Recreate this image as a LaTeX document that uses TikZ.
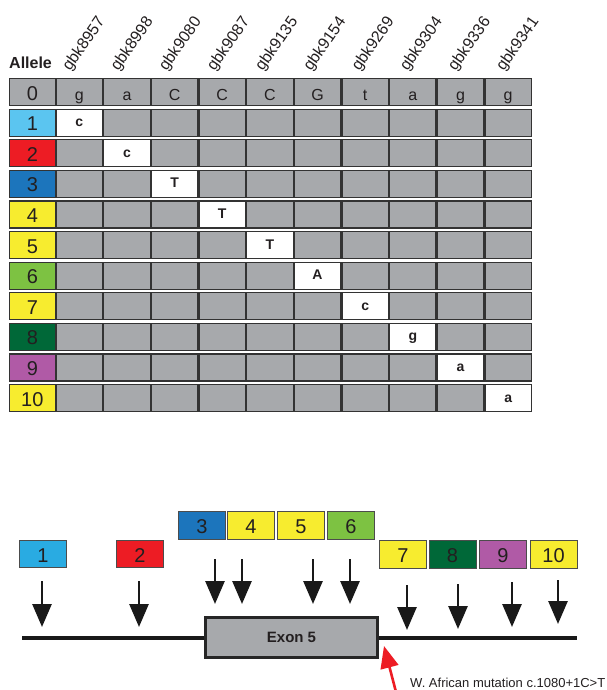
\documentclass[tikz,border=0pt]{standalone}
\usepackage{fontspec}
\setmainfont{Liberation Sans}
\usetikzlibrary{arrows.meta}
\definecolor{cellgray}{HTML}{A7A9AC}
\definecolor{txt}{HTML}{231F20}
\definecolor{cLB}{HTML}{5BC5F0}
\definecolor{cLBb}{HTML}{29ABE2}
\definecolor{cRed}{HTML}{ED1C24}
\definecolor{cBlue}{HTML}{1C75BC}
\definecolor{cYel}{HTML}{F7EC2F}
\definecolor{cGrn}{HTML}{7DC242}
\definecolor{cDG}{HTML}{006838}
\definecolor{cPur}{HTML}{B05AA6}
\begin{document}
\begin{tikzpicture}[x=1pt,y=-1pt,
  cellbox/.style={draw=black!80, line width=1.2pt, fill=cellgray, minimum width=46.4pt, minimum height=27pt, inner sep=0pt, anchor=north west, text=txt},
  lettxt/.style={font=\bfseries\fontsize{14}{14}\selectfont, text height=8pt, text depth=0pt},
  toptxt/.style={font=\fontsize{16}{16}\selectfont, text height=16pt, text depth=0pt},
  numtxt/.style={font=\fontsize{20}{20}\selectfont, text height=16pt, text depth=0pt},
  hdr/.style={anchor=base west, rotate=55, inner sep=0pt, text=txt, font=\fontsize{16}{16}\selectfont},
  allelebox/.style={cellbox, minimum width=46.5pt, numtxt},
  mapbox/.style={draw=black!70, line width=1pt, minimum width=47pt, minimum height=27.5pt, inner sep=0pt, text=txt, numtxt},
  maparrow/.style={draw=black!90, line width=2.8pt, -{Triangle[width=19pt,length=23pt]}},
]
\useasboundingbox (0,0) rectangle (606,690);

% title
\node[anchor=base west, inner sep=0pt, text=txt, font=\bfseries\fontsize{16}{16}\selectfont] (allele) at (9,69) {Allele};

% headers
\foreach \lab [count=\j] in {gbk8957,gbk8998,gbk9080,gbk9087,gbk9135,gbk9154,gbk9269,gbk9304,gbk9336,gbk9341}{
  \node[hdr] (h\j) at ({70+48.2*(\j-1)},72) {\lab};
}

% allele column
\foreach \c [count=\r from 0] in {cellgray,cLB,cRed,cBlue,cYel,cYel,cGrn,cYel,cDG,cPur,cYel}{
  \node[allelebox, fill=\c] (a\r) at (8.5,{78+30.6*\r}) {\r};
}

% row 0 reference letters
\foreach \l [count=\j] in {g,a,C,C,C,G,t,a,g,g}{
  \node[cellbox, toptxt] (c0-\j) at ({55.5+47.65*(\j-1)},78) {\l};
}

% rows 1-10
\foreach \r in {1,...,10}{
  \foreach \j in {1,...,10}{
    \ifnum\r=\j\relax\else
      \node[cellbox] (c\r-\j) at ({55.5+47.65*(\j-1)},{78+30.6*\r}) {};
    \fi
  }
}
\foreach \l [count=\r] in {c,c,T,T,T,A,c,g,a,a}{
  \node[cellbox, fill=white, lettxt] (c\r-\r) at ({55.5+47.65*(\r-1)},{78+30.6*\r}) {\l};
}

% gene map
\coordinate (gl) at (22,638);
\coordinate (gr) at (577,638);
\draw[line width=4pt, black!90] (gl) -- (gr);
\node[draw=black!85, line width=3pt, fill=cellgray, minimum width=172pt, minimum height=40pt, inner sep=0pt, text=txt, font=\bfseries\fontsize{15}{15}\selectfont] (exon) at (291.5,637) {Exon 5};

% allele boxes
\node[mapbox, fill=cLBb] (b1) at (43,554) {1};
\node[mapbox, fill=cRed] (b2) at (140,554) {2};
\node[mapbox, fill=cBlue] (b3) at (202,525.5) {3};
\node[mapbox, fill=cYel] (b4) at (251,525.5) {4};
\node[mapbox, fill=cYel] (b5) at (301,525.5) {5};
\node[mapbox, fill=cGrn] (b6) at (351,525.5) {6};
\node[mapbox, fill=cYel] (b7) at (403,554.5) {7};
\node[mapbox, fill=cDG] (b8) at (452.5,554.5) {8};
\node[mapbox, fill=cPur] (b9) at (503,554.5) {9};
\node[mapbox, fill=cYel] (b10) at (553.5,554.5) {10};

% arrows
\foreach \k/\x/\ya/\yb in {1/42/581/627, 2/139/581/627, 3/215/559/604, 4/242/559/604, 5/313/559/604, 6/350/559/604, 7/407/585/630, 8/458/584/629, 9/512/582/627, 10/558/580/624}{
  \coordinate (s\k) at (\x,\ya);
  \coordinate (t\k) at (\x,\yb);
  \draw[maparrow] (s\k) -- (t\k);
}

% mutation
\coordinate (ms) at (396,692);
\coordinate (mt) at (384,646);
\draw[cRed, line width=2.6pt, -{Triangle[width=18pt,length=22pt]}] (ms) -- (mt);
\node[anchor=base west, inner sep=0pt, text=txt, font=\fontsize{13}{13}\selectfont] (mut) at (410,687) {W. African mutation c.1080+1C>T};
\end{tikzpicture}
\end{document}
